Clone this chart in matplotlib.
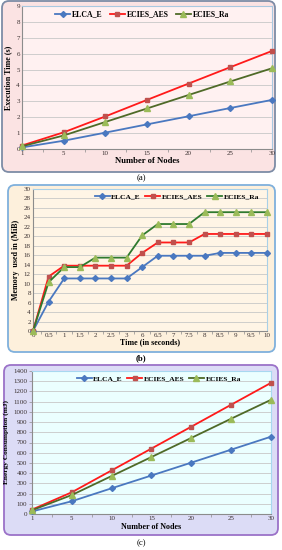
import matplotlib
matplotlib.use("Agg")
import matplotlib.pyplot as plt
from matplotlib.patches import FancyBboxPatch
import numpy as np

# ---------------- data ----------------
nodes = ["1", "5", "10", "15", "20", "25", "30"]
series_names = ["ELCA_E", "ECIES_AES", "ECIES_Ra"]

exec_elca = [0.10, 0.52, 1.03, 1.55, 2.06, 2.58, 3.09]
exec_aes = [0.22, 1.05, 2.05, 3.09, 4.12, 5.15, 6.17]
exec_ra = [0.17, 0.85, 1.70, 2.55, 3.40, 4.25, 5.08]

time_labels = ["0", "0.5", "1", "1.5", "2", "2.5", "3", "6", "6.5", "7",
               "7.5", "8", "8.5", "9", "9.5", "10"]
mem_elca = [0, 6.2, 11.1, 11.1, 11.1, 11.1, 11.1, 13.5, 15.9, 15.9, 15.9,
            15.9, 16.5, 16.5, 16.5, 16.5]
mem_aes = [0, 11.5, 13.8, 13.8, 13.8, 13.8, 13.8, 16.5, 18.7, 18.7, 18.7,
           20.5, 20.5, 20.5, 20.5, 20.5]
mem_ra = [0, 10.3, 13.5, 13.5, 15.5, 15.5, 15.5, 20.2, 22.6, 22.6, 22.6,
          25.1, 25.1, 25.1, 25.1, 25.1]

energy_elca = [25, 125, 252, 377, 503, 630, 757]
energy_aes = [43, 213, 427, 641, 855, 1070, 1284]
energy_ra = [37, 186, 372, 558, 745, 933, 1118]

# ---------------- figure ----------------
W, H = 282, 550
fig = plt.figure(figsize=(W / 100, H / 100), dpi=100)
plt.rcParams['font.family'] = ['Liberation Serif', 'DejaVu Serif']

bg = fig.add_axes([0, 0, 1, 1])
bg.set_xlim(0, W)
bg.set_ylim(H, 0)
bg.axis("off")


def box(x0, y0, x1, y1, fc, ec):
    p = FancyBboxPatch((x0, y0), x1 - x0, y1 - y0,
                       boxstyle="round,pad=0,rounding_size=7",
                       fc=fc, ec=ec, lw=1.3)
    bg.add_patch(p)


def axes_px(x0, y0, x1, y1):
    return fig.add_axes([x0 / W, 1 - y1 / H, (x1 - x0) / W, (y1 - y0) / H])


BLUE = "#4a78c0"
RED = "#ff1a1a"
RED_M = "#c0504d"
GREEN = "#4f6a28"
GREEN_M = "#9bbb59"
GRID = "#c8c8c8"
TICK_C = "#3a3030"


def style(ax, fc, spine_c):
    ax.set_facecolor(fc)
    for s in ["left", "bottom"]:
        ax.spines[s].set_color("#8c8c8c")
        ax.spines[s].set_linewidth(0.8)
    for s in ["top", "right"]:
        ax.spines[s].set_color(spine_c)
        ax.spines[s].set_linewidth(0.8)
    ax.yaxis.grid(True, color=GRID, lw=0.6)
    ax.set_axisbelow(True)
    ax.tick_params(axis="both", labelsize=5, length=2, width=0.5,
                   color="#8c8c8c", pad=1.5, labelcolor=TICK_C)


def plot3(ax, y1, y2, y3, lw=1.3, green=GREEN):
    x = np.arange(len(y1))
    ax.plot(x, y1, color=BLUE, lw=lw, marker="D", ms=3, mfc=BLUE,
            mec=BLUE, label=series_names[0], clip_on=False, zorder=3)
    ax.plot(x, y2, color=RED, lw=lw, marker="s", ms=3.3, mfc=RED_M,
            mec=RED_M, label=series_names[1], clip_on=False, zorder=3)
    ax.plot(x, y3, color=green, lw=lw, marker="^", ms=3.8, mfc=GREEN_M,
            mec=GREEN_M, label=series_names[2], clip_on=False, zorder=3)


def legend(ax, loc, anchor, size=5.6, colsp=0.9):
    lg = ax.legend(loc=loc, bbox_to_anchor=anchor, ncol=3, frameon=False,
                   prop={"weight": "bold", "size": size}, handlelength=2.0,
                   columnspacing=colsp, handletextpad=0.2, borderaxespad=0.2)
    return lg


def cat_ticks(ax, labels):
    n = len(labels)
    ax.set_xlim(0, n - 1)
    ax.set_xticks(np.arange(n))
    ax.set_xticklabels(labels)
    ax.set_xticks(np.arange(n - 1) + 0.5, minor=True)
    ax.tick_params(axis="x", which="major", length=0)
    ax.tick_params(axis="x", which="minor", length=2, width=0.5,
                   color="#8c8c8c")


# ---- panel (a) ----
box(2, 1, 275, 172, "#fbe3e3", "#7d8ca6")
ax = axes_px(22, 6, 272, 149)
style(ax, "#fff1f1", "#a8c8e0")
plot3(ax, exec_elca, exec_aes, exec_ra)
cat_ticks(ax, nodes)
ax.set_ylim(0, 9)
ax.set_yticks(range(0, 10))
ax.tick_params(axis="y", length=0)
ax.set_ylabel("Execution Time (s)", fontsize=5.8, fontweight="bold", labelpad=3)
ax.set_xlabel("Number of Nodes", fontsize=6.2, fontweight="bold", labelpad=0)
legend(ax, "upper center", (0.48, 1.0))
bg.text(141, 178, "(a)", ha="center", va="center", fontsize=6.2)

# ---- panel (b) ----
box(8, 185, 275, 352, "#fdf0dc", "#7fb0dc")
ax = axes_px(33, 189, 267, 331)
style(ax, "#fff5e6", "#a8d0e8")
plot3(ax, mem_elca, mem_aes, mem_ra, green="#2f7a2f")
cat_ticks(ax, time_labels)
ax.set_ylim(0, 30)
ax.set_yticks(range(0, 31, 2))
ax.tick_params(axis="y", length=0)
ax.set_ylabel("Memory  used in (MiB)", fontsize=5.8, fontweight="bold", labelpad=3)
ax.set_xlabel("Time (in seconds)", fontsize=5.8, fontweight="bold", labelpad=0)
legend(ax, "upper right", (0.985, 1.0), size=5.4, colsp=0.6)
bg.text(141, 358, "(b)", ha="center", va="center", fontsize=6.2,
        fontweight="bold")

# ---- panel (c) ----
box(4, 365, 278, 535, "#dcdcf6", "#9b72c8")
ax = axes_px(32, 371, 271, 514)
style(ax, "#ebffff", "#a8d8f0")
plot3(ax, energy_elca, energy_aes, energy_ra)
cat_ticks(ax, nodes)
ax.set_ylim(0, 1400)
ax.set_yticks(range(0, 1401, 100))
ax.tick_params(axis="y", length=2)
ax.set_ylabel("Energy Consumption (mJ)", fontsize=5.3, fontweight="bold", labelpad=3)
ax.set_xlabel("Number of Nodes", fontsize=5.8, fontweight="bold", labelpad=1)
legend(ax, "upper center", (0.53, 1.0), size=5.4, colsp=0.6)
bg.text(141, 543, "(c)", ha="center", va="center", fontsize=6.2)

fig.savefig("out.png", dpi=100)
